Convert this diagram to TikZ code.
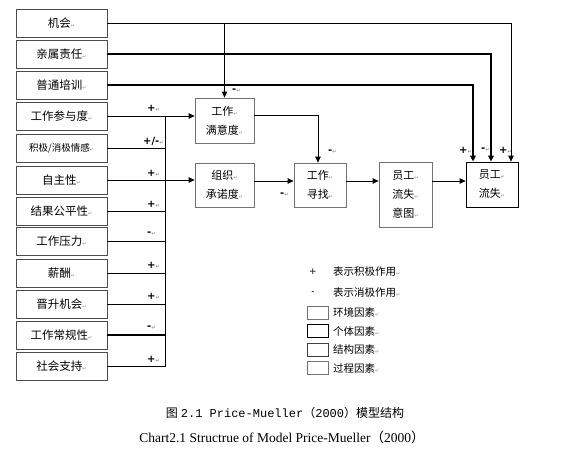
\documentclass[tikz,border=0pt]{standalone}
\usepackage{fontspec}
\usetikzlibrary{arrows.meta}
\setmainfont{Liberation Serif}
\newfontfamily\cjk{Noto Sans CJK SC}
\newfontfamily\monof{Liberation Mono}
\newfontfamily\symf{DejaVu Sans}
\newcommand\ret{{\symf\fontsize{5}{5}\selectfont\color{black!45}↵}}
\tikzset{
  lbox/.style={draw=black!70, line width=0.8pt, minimum width=91pt, minimum height=28pt, inner sep=0pt, font=\cjk\fontsize{11.5}{13}\selectfont},
  mbox/.style={draw=black!55, line width=0.8pt, inner sep=0pt, align=center, font=\cjk\fontsize{11}{19}\selectfont},
  conn/.style={line width=0.8pt},
  heavy/.style={line width=1.5pt},
  arr/.style={-{Triangle[length=6pt,width=5.5pt]}},
  sign/.style={font=\symf\bfseries\fontsize{10}{10}\selectfont, inner sep=0pt, anchor=west},
  legbox/.style={draw=black!55, line width=0.8pt, minimum width=21pt, minimum height=13pt, inner sep=0pt},
  legtext/.style={font=\cjk\fontsize{10.5}{12}\selectfont, inner sep=0pt, anchor=west}
}
\begin{document}
\begin{tikzpicture}[x=1pt,y=-1pt]
\useasboundingbox (0,0) rectangle (568,448);
% left boxes
\node[lbox] (jihui)  at (61.5,23.5) {机会\ret};
\node[lbox] (qinshu) at (61.5,54)   {亲属责任\ret};
\node[lbox] (peixun) at (61.5,85)   {普通培训\ret};
\node[lbox] (canyu)  at (61.5,116)  {工作参与度\ret};
\node[lbox, font=\cjk\fontsize{9.5}{12}\selectfont] (qinggan) at (61.5,148) {积极/消极情感\ret};
\node[lbox] (zizhu)  at (61.5,180)  {自主性\ret};
\node[lbox] (gongping) at (61.5,211) {结果公平性\ret};
\node[lbox] (yali)   at (61.5,241.5) {工作压力\ret};
\node[lbox] (xinchou) at (61.5,273) {薪酬\ret};
\node[lbox] (jinsheng) at (61.5,304) {晋升机会\ret};
\node[lbox] (changgui) at (61.5,335) {工作常规性\ret};
\node[lbox] (shehui) at (61.5,366.5) {社会支持\ret};
% middle boxes
\node[mbox, minimum width=59pt, minimum height=45pt] (manyi) at (224.5,120.5) {工作\ret\\满意度\ret};
\node[mbox, minimum width=59pt, minimum height=44pt] (zuzhi) at (224.5,185) {组织\ret\\承诺度\ret};
\node[mbox, minimum width=52pt, minimum height=44pt] (xunzhao) at (320,185) {工作\ret\\寻找\ret};
\node[mbox, minimum width=53pt, minimum height=65pt] (yitu) at (405.5,194.5) {员工\ret\\流失\ret\\意图\ret};
\node[mbox, draw=black, minimum width=52pt, minimum height=45pt] (liushi) at (492,184.5) {员工\ret\\流失\ret};
% bus
\coordinate (bus) at (165,0);
\draw[conn] (canyu.east -| bus) -- (shehui.east -| bus);
\draw[conn,arr] (canyu.east) -- (canyu.east -| manyi.west);
\draw[conn,arr] (zizhu.east) -- (zizhu.east -| zuzhi.west);
\foreach \n in {qinggan,gongping,yali,xinchou,jinsheng,shehui}
  \draw[conn] (\n.east) -- (\n.east -| bus);
\draw[heavy] (changgui.east) -- (changgui.east -| bus);
% top lines
\draw[conn,arr] (jihui.east) -| ([xshift=19pt]liushi.north);
\draw[heavy,arr] (qinshu.east) -| ([xshift=-1pt]liushi.north);
\draw[heavy,arr] (peixun.east) -| ([xshift=-19pt]liushi.north);
\draw[conn,arr] (jihui.east -| manyi.north) -- (manyi.north);
% middle connections
\draw[conn,arr] ([yshift=5.5pt]manyi.east) -| ([xshift=-2pt]xunzhao.north);
\draw[conn,arr] ([yshift=4pt]zuzhi.east) -- ([yshift=4pt]zuzhi.east -| xunzhao.west);
\draw[conn,arr] ([yshift=4pt]xunzhao.east) -- ([yshift=4pt]xunzhao.east -| yitu.west);
\draw[conn,arr] ([yshift=3.5pt]liushi.west -| yitu.east) -- ([yshift=3.5pt]liushi.west);
% signs
\node[sign] (s1) at (147,108) {+\ret};
\node[sign] (s2) at (143,141) {+/-\ret};
\node[sign] (s3) at (147,173) {+\ret};
\node[sign] (s4) at (147,204) {+\ret};
\node[sign] (s5) at (147,234) {-\ret};
\node[sign] (s6) at (147,265) {+\ret};
\node[sign] (s7) at (147,296) {+\ret};
\node[sign] (s8) at (147,328) {-\ret};
\node[sign] (s9) at (147,359) {+\ret};
\node[sign] (s10) at (232,91) {-\ret};
\node[sign] (s11) at (328,152) {-\ret};
\node[sign] (s12) at (280,195) {-\ret};
\node[sign] (s13) at (459,150) {+\ret};
\node[sign] (s14) at (481,150) {-\ret};
\node[sign] (s15) at (499,150) {+\ret};
% legend
\node[font=\symf\fontsize{9}{9}\selectfont, inner sep=0pt] (lp) at (313,272) {+};
\node[legtext] (lpt) at (333,272) {表示积极作用\ret};
\node[font=\symf\fontsize{9}{9}\selectfont, inner sep=0pt] (lm) at (313,293) {-};
\node[legtext] (lmt) at (333,293) {表示消极作用\ret};
\node[legbox] (b1) at (317.5,312.5) {};
\node[legtext] (t1) at (333,312.5) {环境因素\ret};
\node[legbox, draw=black] (b2) at (317.5,331) {};
\node[legtext] (t2) at (333,331) {个体因素\ret};
\node[legbox, draw=black!75] (b3) at (317.5,349.5) {};
\node[legtext] (t3) at (333,349.5) {结构因素\ret};
\node[legbox] (b4) at (317.5,368) {};
\node[legtext] (t4) at (333,368) {过程因素\ret};
% captions
\node[inner sep=0pt, font=\fontsize{12}{14}\selectfont] (cap1) at (285,413) {{\cjk 图} {\monof 2.1 Price-Mueller}{\cjk （}{\monof 2000}{\cjk ）模型结构}};
\node[inner sep=0pt, font=\fontsize{13.5}{15}\selectfont] (cap2) at (282,437) {Chart2.1 Structrue of Model Price-Mueller{\cjk （}2000{\cjk ）}};
\end{tikzpicture}
\end{document}
